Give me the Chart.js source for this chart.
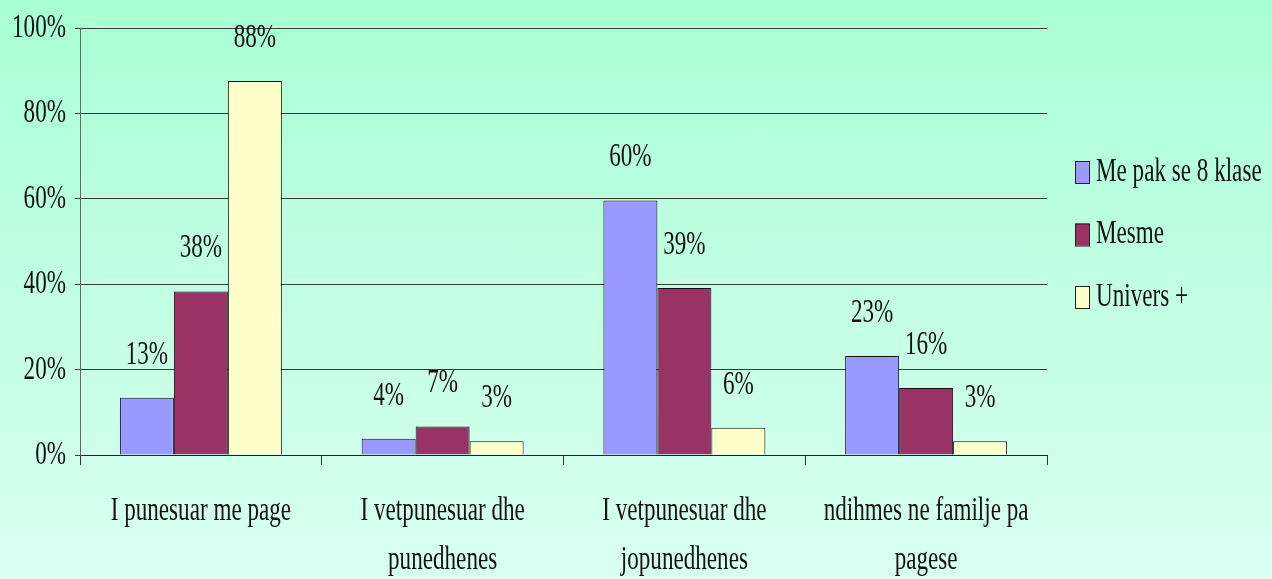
<!DOCTYPE html>
<html lang="sq">
<head>
    <meta charset="UTF-8">
    <title>Punesimi sipas arsimit</title>
    <script src="https://cdn.jsdelivr.net/npm/chart.js"></script>
    <style>
        html, body {
            margin: 0;
            padding: 0;
        }
        body {
            width: 1272px;
            height: 579px;
            overflow: hidden;
            background: linear-gradient(180deg, #a8ffd3 0%, #c4ffe4 55%, #d8fff2 100%);
        }
        #chart {
            display: block;
        }
    </style>
</head>
<body>
    <canvas id="chart" width="1272" height="579"></canvas>

    <script>
        // data
        const categories = [
            ["I punesuar me page"],
            ["I vetpunesuar dhe", "punedhenes"],
            ["I vetpunesuar dhe", "jopunedhenes"],
            ["ndihmes ne familje pa", "pagese"]
        ];
        const seriesNames = ["Me pak se 8 klase", "Mesme", "Univers +"];
        const mePak = [13.4, 3.8, 59.6, 23.2];
        const mesme = [38.3, 6.7, 39.1, 15.7];
        const univers = [87.6, 3.2, 6.4, 3.2];
        const seriesColors = ["#9999ff", "#993366", "#ffffcc"];

        const FONT = '34px "Liberation Serif", "Times New Roman", serif';
        const SQUEEZE = 0.68;   // the original text is a narrow Times

        function drawText(ctx, text, x, y, align) {
            ctx.save();
            ctx.translate(x, y);
            ctx.scale(SQUEEZE, 1);
            ctx.font = FONT;
            ctx.fillStyle = "#111";
            ctx.textAlign = align;
            ctx.textBaseline = "middle";
            ctx.fillText(text, 0, 0);
            ctx.restore();
        }

        const textPlugin = {
            id: "textPlugin",
            afterDraw(chart) {
                const ctx = chart.ctx;
                const xs = chart.scales.x;
                const ys = chart.scales.y;

                // y tick labels
                ys.ticks.forEach(t => {
                    drawText(ctx, t.value + "%", 66, ys.getPixelForValue(t.value), "right");
                });

                // category labels
                categories.forEach((lines, i) => {
                    const cx = xs.getPixelForValue(i);
                    lines.forEach((line, j) => {
                        drawText(ctx, line, cx, 511 + j * 49, "center");
                    });
                });

                // values above bars
                chart.data.datasets.forEach((ds, d) => {
                    chart.getDatasetMeta(d).data.forEach((bar, i) => {
                        drawText(ctx, Math.round(ds.data[i]) + "%", bar.x, bar.y - 43, "center");
                    });
                });

                // legend
                seriesNames.forEach((name, i) => {
                    const cy = 172 + i * 62.5;
                    ctx.fillStyle = seriesColors[i];
                    ctx.fillRect(1075, cy - 11, 14, 22);
                    ctx.strokeStyle = "#222";
                    ctx.lineWidth = 1;
                    ctx.strokeRect(1075.5, cy - 10.5, 14, 22);
                    drawText(ctx, name, 1096, cy, "left");
                });
            }
        };

        new Chart(document.getElementById("chart"), {
            type: "bar",
            data: {
                labels: categories,
                datasets: [
                    { label: seriesNames[0], data: mePak, backgroundColor: seriesColors[0] },
                    { label: seriesNames[1], data: mesme, backgroundColor: seriesColors[1] },
                    { label: seriesNames[2], data: univers, backgroundColor: seriesColors[2] }
                ].map(ds => Object.assign(ds, {
                    borderColor: "#111",
                    borderWidth: 1,
                    categoryPercentage: 0.67,
                    barPercentage: 1.0
                }))
            },
            options: {
                responsive: false,
                animation: false,
                layout: { padding: { top: 28, right: 225, left: 0, bottom: 0 } },
                plugins: {
                    legend: { display: false },
                    tooltip: { enabled: false }
                },
                scales: {
                    x: {
                        grid: {
                            drawOnChartArea: false,
                            drawTicks: true,
                            tickLength: 10,
                            color: "#333"
                        },
                        border: { color: "#222", width: 1 },
                        ticks: { display: false },
                        afterFit(scale) { scale.height = 124; }
                    },
                    y: {
                        min: 0,
                        max: 100,
                        ticks: { stepSize: 20, display: false },
                        grid: {
                            color: "#3a3a3a",
                            tickLength: 5,
                            drawTicks: true
                        },
                        border: { color: "#666", width: 1 },
                        afterFit(scale) { scale.width = 80; }
                    }
                }
            },
            plugins: [textPlugin]
        });
    </script>
</body>
</html>
